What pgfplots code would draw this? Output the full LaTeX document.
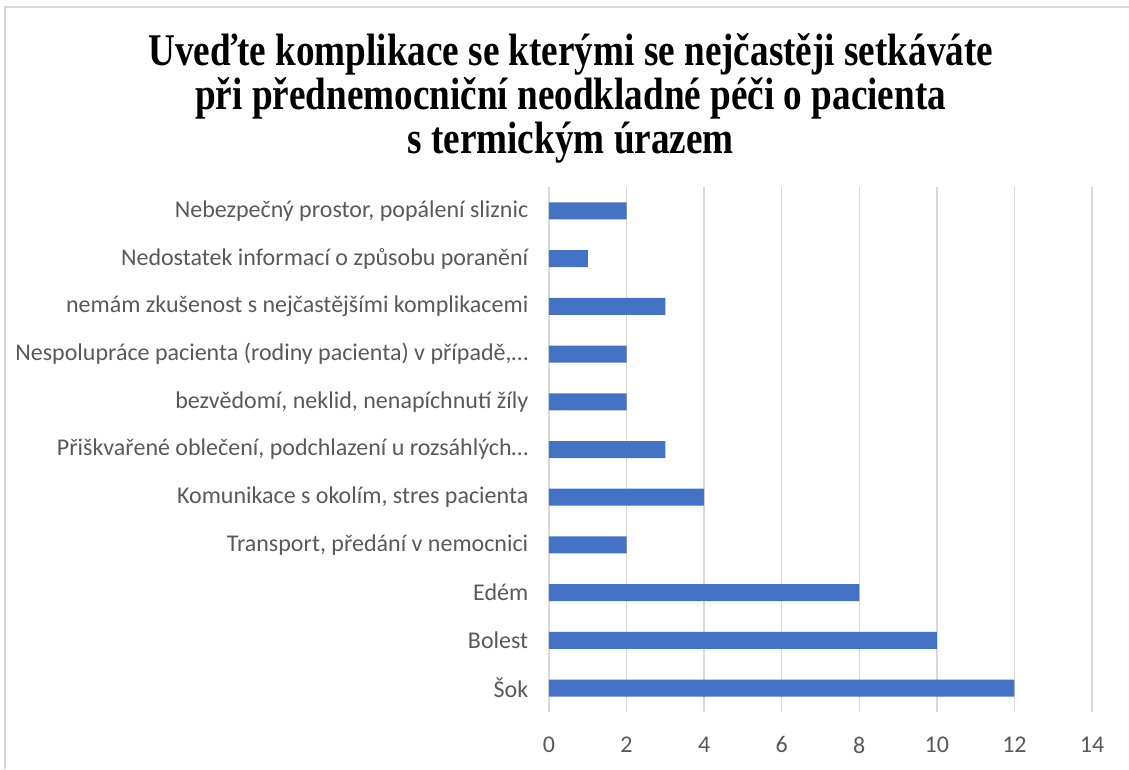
\documentclass[border=0pt]{standalone}
\usepackage{fontspec}
\setmainfont{Carlito}
\newfontfamily\titlefont[FakeStretch=0.82]{Liberation Serif}
\usepackage{pgfplots}
\pgfplotsset{compat=1.18}
\definecolor{barblue}{HTML}{4472C4}
\definecolor{labgray}{HTML}{595959}
\definecolor{gridgray}{HTML}{D9D9D9}

\begin{document}
\begin{tikzpicture}
\useasboundingbox (0,0) rectangle (846.75pt,576.75pt);
\draw[gridgray, line width=1.1pt] (3.75pt,0) -- (3.75pt,571.5pt) -- (846.75pt,571.5pt);
\node[font=\titlefont\bfseries\fontsize{34}{33}\selectfont, align=center, anchor=center]
  at (428pt,503pt) {Uveďte komplikace se kterými se nejčastěji setkáváte\\
  při přednemocniční neodkladné péči o pacienta\\ s termickým úrazem};
\begin{axis}[
    at={(411.75pt,42.75pt)}, anchor=south west,
    scale only axis, width=407.25pt, height=393.75pt,
    xbar, bar width=12.75pt,
    xmin=0, xmax=14, xtick={0,2,...,14},
    ymin=-0.5, ymax=10.5,
    ytick={0,...,10},
    yticklabels={Šok, Bolest, Edém, {Transport, předání v nemocnici},
      {Komunikace s okolím, stres pacienta},
      {Přiškvařené oblečení, podchlazení u rozsáhlých\ldots},
      {bezvědomí, neklid, nenapíchnutí žíly},
      {Nespolupráce pacienta (rodiny pacienta) v případě,\ldots},
      {nemám zkušenost s nejčastějšími komplikacemi},
      {Nedostatek informací o způsobu poranění},
      {Nebezpečný prostor, popálení sliznic}},
    axis line style={draw=none},
    major tick length=0pt,
    xmajorgrids, grid style={gridgray, line width=1.1pt},
    tick label style={font=\fontsize{18}{20}\selectfont, text=labgray},
    yticklabel style={xshift=-12pt},
    xticklabel style={yshift=-15pt},
    /pgf/number format/assume math mode=true,
]
\addplot[fill=barblue, draw=none] coordinates {
  (12,0) (10,1) (8,2) (2,3) (4,4) (3,5) (2,6) (2,7) (3,8) (1,9) (2,10)};
\end{axis}
\end{tikzpicture}
\end{document}
